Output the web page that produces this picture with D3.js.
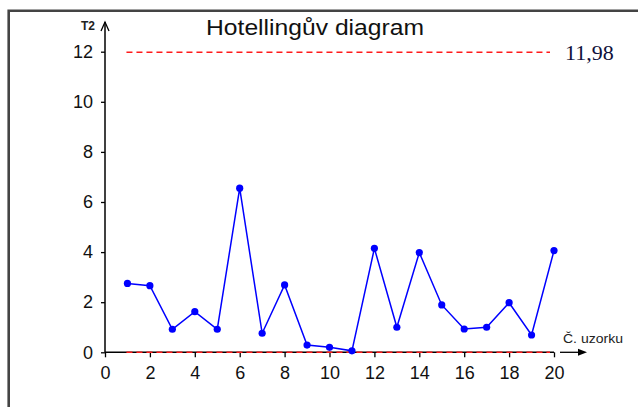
<!DOCTYPE html>
<html>
<head>
<meta charset="utf-8">
<script src="https://cdn.jsdelivr.net/npm/d3@7.9.0/dist/d3.min.js"></script>
<style>
  body { margin: 0; background: #fff; }
  svg { display: block; }
</style>
</head>
<body>
<svg id="chart" width="638" height="407"></svg>
<script>
// sample number and Hotelling T2 value
const samples = [1, 2, 3, 4, 5, 6, 7, 8, 9, 10, 11, 12, 13, 14, 15, 16, 17, 18, 19, 20];
const t2Values = [2.75, 2.66, 0.92, 1.62, 0.92, 6.55, 0.76, 2.69, 0.29, 0.2, 0.06, 4.15, 1.0, 3.98, 1.89, 0.93, 1.0, 1.98, 0.69, 4.06];
const xTicks = [0, 2, 4, 6, 8, 10, 12, 14, 16, 18, 20];
const yTicks = [0, 2, 4, 6, 8, 10, 12];
const upperLimit = 11.98;
const lowerLimit = 0;
const limitLabel = '11,98';
const title = 'Hotellingův diagram';

const svg = d3.select('#chart');

const x = d3.scaleLinear().domain([0, 20]).range([105, 554]);
const y = d3.scaleLinear().domain([0, 12]).range([352.3, 51.7]);

// frame (clipped at right and bottom)
svg.append('path')
    .attr('d', 'M8.7,407 V10.7 H638')
    .attr('fill', 'none')
    .attr('stroke', '#444')
    .attr('stroke-width', 2.6);

// title
svg.append('text')
    .attr('x', 206)
    .attr('y', 35)
    .attr('font-family', 'Liberation Sans, Arial, sans-serif')
    .attr('font-size', 22)
    .attr('fill', '#111')
    .attr('textLength', 218)
    .attr('lengthAdjust', 'spacingAndGlyphs')
    .text(title);

// y axis
const yAxis = svg.append('g')
    .attr('transform', `translate(${x(0)},0)`)
    .call(d3.axisLeft(y).tickValues(yTicks).tickSize(4).tickPadding(8));
yAxis.select('.domain').remove();
yAxis.append('line')
    .attr('x1', 0).attr('x2', 0)
    .attr('y1', y(0)).attr('y2', 22)
    .attr('stroke', '#000').attr('stroke-width', 1.5);
yAxis.append('path')
    .attr('d', 'M-4,31 L0,22 L4,31')
    .attr('fill', 'none')
    .attr('stroke', '#000').attr('stroke-width', 1.3);

// x axis
const xAxis = svg.append('g')
    .attr('transform', `translate(0,${y(0)})`)
    .call(d3.axisBottom(x).tickValues(xTicks).tickSize(5).tickPadding(9));
xAxis.select('.domain')
    .attr('d', `M${x(0)},0 H${x(20)}`)
    .attr('stroke-width', 1.5);
xAxis.append('line')
    .attr('x1', 560).attr('x2', 580)
    .attr('y1', 0).attr('y2', 0)
    .attr('stroke', '#000').attr('stroke-width', 1.3);
xAxis.append('path')
    .attr('d', 'M578,-3.5 L587,0 L578,3.5 Z')
    .attr('fill', '#000');

[yAxis, xAxis].forEach(g => {
    g.selectAll('.tick line').attr('stroke', '#000').attr('stroke-width', 1.3);
    g.selectAll('text')
        .attr('font-family', 'Liberation Sans, Arial, sans-serif')
        .attr('font-size', 18)
        .attr('fill', '#111');
});

// axis names
svg.append('text')
    .attr('x', 95)
    .attr('y', 30)
    .attr('text-anchor', 'end')
    .attr('font-family', 'Liberation Sans, Arial, sans-serif')
    .attr('font-size', 12)
    .attr('font-weight', 'bold')
    .attr('fill', '#222')
    .text('T2');

svg.append('text')
    .attr('x', 563)
    .attr('y', 343)
    .attr('font-family', 'Liberation Sans, Arial, sans-serif')
    .attr('font-size', 13)
    .attr('fill', '#222')
    .attr('textLength', 60)
    .attr('lengthAdjust', 'spacingAndGlyphs')
    .text('Č. uzorku');

// control limits
[upperLimit, lowerLimit].forEach(v => {
    svg.append('line')
        .attr('x1', x(1) - 1).attr('x2', x(20) - 4)
        .attr('y1', y(v)).attr('y2', y(v))
        .attr('stroke', '#ff1a1a')
        .attr('stroke-width', 1.6)
        .attr('stroke-dasharray', '6,4');
});

svg.append('text')
    .attr('x', 565)
    .attr('y', 60)
    .attr('font-family', 'Liberation Serif, Times New Roman, serif')
    .attr('font-size', 22)
    .attr('fill', '#10103a')
    .text(limitLabel);

// series
const data = samples.map((s, i) => ({ s, v: t2Values[i] }));

svg.append('path')
    .datum(data)
    .attr('fill', 'none')
    .attr('stroke', '#0000ff')
    .attr('stroke-width', 1.5)
    .attr('d', d3.line().x(d => x(d.s)).y(d => y(d.v)));

svg.selectAll('circle.pt')
    .data(data)
    .join('circle')
    .attr('class', 'pt')
    .attr('cx', d => x(d.s))
    .attr('cy', d => y(d.v))
    .attr('r', 3.6)
    .attr('fill', '#0000ff');
</script>
</body>
</html>
